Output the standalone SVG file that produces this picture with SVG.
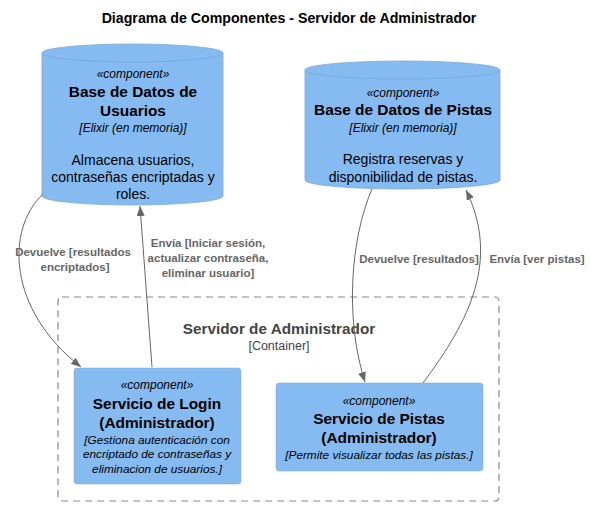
<svg xmlns="http://www.w3.org/2000/svg" width="591" height="506" viewBox="0 0 591 506">
<defs>
<style>
text{font-family:"Liberation Sans",Arial,sans-serif;text-anchor:middle}
.title{font-size:14.2px;font-weight:bold;fill:#000}
.st{font-size:12px;font-style:italic;fill:#000}
.nm{font-size:15.4px;font-weight:bold;fill:#000}
.ds{font-size:14px;fill:#000}
.it{font-size:11.8px;font-style:italic;fill:#000}
.lbl{font-size:11.5px;font-weight:bold;fill:#666}
.box{fill:#85BBF0;stroke:#78A8D8;stroke-width:0.5}
.cyl{fill:#85BBF0;stroke:#78A8D8;stroke-width:0.8}
.cont{fill:none;stroke:#888;stroke-width:1.2;stroke-dasharray:7,5}
.edge{fill:none;stroke:#666;stroke-width:1}
</style>
<marker id="ah" markerWidth="10" markerHeight="8" refX="10" refY="4" orient="auto" markerUnits="userSpaceOnUse">
<path d="M0,0 L10,4 L0,8 Z" fill="#666"/>
</marker>
</defs>
<rect width="591" height="506" fill="#fff"/>
<text class="title" x="289" y="23">Diagrama de Componentes - Servidor de Administrador</text>

<g id="container">
<rect class="cont" x="58" y="297" width="441" height="204" rx="4"/>
<text x="279" y="334" style="font-size:15.3px;font-weight:bold;fill:#444">Servidor de Administrador</text>
<text x="279" y="350" style="font-size:12.5px;fill:#444">[Container]</text>
</g>

<g id="db_usuarios">
<path class="cyl" d="M42,53 A90.5,9 0 0 1 223,53 L223,196 A90.5,9 0 0 1 42,196 Z"/>
<path class="cyl" d="M42,53 A90.5,9 0 0 0 223,53" style="fill:none"/>
<text class="st" x="133" y="78">«component»</text>
<text class="nm" x="133" y="97">Base de Datos de</text>
<text class="nm" x="133" y="116">Usuarios</text>
<text class="st" x="133" y="132">[Elixir (en memoria)]</text>
<text class="ds" x="133" y="165">Almacena usuarios,</text>
<text class="ds" x="133" y="182">contraseñas encriptadas y</text>
<text class="ds" x="133" y="199">roles.</text>
</g>

<g id="db_pistas">
<path class="cyl" d="M305,70 A97.5,9 0 0 1 500,70 L500,180 A97.5,9 0 0 1 305,180 Z"/>
<path class="cyl" d="M305,70 A97.5,9 0 0 0 500,70" style="fill:none"/>
<text class="st" x="403" y="97">«component»</text>
<text class="nm" x="403" y="115">Base de Datos de Pistas</text>
<text class="st" x="403" y="132">[Elixir (en memoria)]</text>
<text class="ds" x="403" y="164">Registra reservas y</text>
<text class="ds" x="403" y="182">disponibilidad de pistas.</text>
</g>

<g id="svc_login">
<rect class="box" x="74" y="368" width="167" height="116" rx="3"/>
<text class="st" x="157" y="389">«component»</text>
<text class="nm" x="157" y="409">Servicio de Login</text>
<text class="nm" x="157" y="428">(Administrador)</text>
<text class="it" x="157" y="444">[Gestiona autenticación con</text>
<text class="it" x="157" y="458">encriptado de contraseñas y</text>
<text class="it" x="157" y="473">eliminacion de usuarios.]</text>
</g>

<g id="svc_pistas">
<rect class="box" x="276" y="383" width="207" height="88" rx="3"/>
<text class="st" x="379" y="405">«component»</text>
<text class="nm" x="379" y="424">Servicio de Pistas</text>
<text class="nm" x="379" y="443">(Administrador)</text>
<text class="it" x="379" y="459">[Permite visualizar todas las pistas.]</text>
</g>

<g id="connectors">
<path class="edge" marker-end="url(#ah)" d="M43,194 C5,230 8,310 81,367"/>
<path class="edge" marker-end="url(#ah)" d="M152,367 L140,206"/>
<path class="edge" marker-end="url(#ah)" d="M372,189 C350,240 345,320 365,382"/>
<path class="edge" marker-end="url(#ah)" d="M423,383 C470,320 500,260 466,190"/>
<text class="lbl" x="73" y="256">Devuelve [resultados</text>
<text class="lbl" x="75" y="271">encriptados]</text>
<text class="lbl" x="208" y="247">Envía [Iniciar sesión,</text>
<text class="lbl" x="208" y="262">actualizar contraseña,</text>
<text class="lbl" x="208" y="277">eliminar usuario]</text>
<text class="lbl" x="419" y="263">Devuelve [resultados]</text>
<text class="lbl" x="537" y="263">Envía [ver pistas]</text>
</g>
</svg>
